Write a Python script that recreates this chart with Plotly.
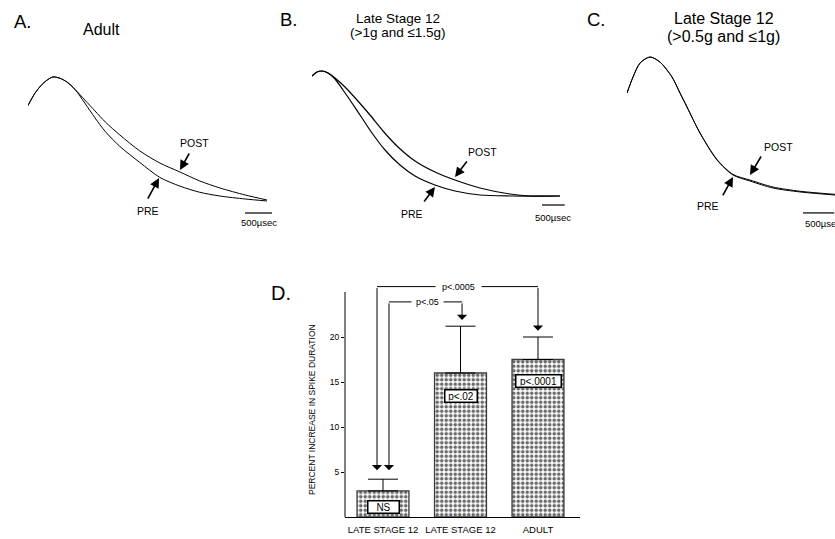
import plotly.graph_objects as go

W, H = 835, 539
FONT = "Liberation Sans, Arial, Helvetica, sans-serif"

# ---------------- data ----------------
# Panel A (Adult): time (usec) and normalised spike amplitude (% of peak)
A_T = [0, 130, 260, 370, 460, 590, 720, 870, 1050, 1240, 1430, 1700, 2070, 2440, 2810, 3180, 3550, 4020, 4420]
A_PRE = [77, 87, 94, 98, 100, 99, 96, 90, 79, 67, 56, 44, 31, 19, 12, 7, 4, 1.6, 0]
A_POST = [77, 87, 94, 98, 100, 99, 96, 90, 81.5, 72.6, 63.7, 53.2, 40.3, 30.6, 23.4, 16.1, 10.5, 4.8, 0.8]

# Panel B (Late stage 12, >1g and <=1.5g)
B_T_PRE = [0, 110, 220, 352, 506, 682, 880, 1100, 1320, 1606, 1936, 2266, 2706, 3146, 3696, 4356, 5456]
B_PRE = [96, 99.2, 100, 98.4, 93.6, 84.8, 74.4, 62.4, 50.4, 36.8, 24.8, 16, 8.8, 4, 0.8, 0, 0]
B_T_POST = [0, 110, 220, 352, 506, 726, 990, 1276, 1562, 1892, 2266, 2706, 3146, 3696, 4356, 4796, 5456]
B_POST = [96, 99.2, 100, 98.4, 94.4, 87.2, 76.8, 64.8, 52, 39.2, 28, 19.2, 12.8, 6.4, 1.6, 0, 0]

# Panel C (Late stage 12, >0.5g and <=1g)
C_T = [0, 96, 208, 368, 528, 720, 848, 960, 1168, 1440, 1696, 1968, 2336, 2768, 3408]
C_PRE = [74.3, 85.7, 95.7, 100, 96.4, 85.7, 74.3, 64.3, 45.7, 26.4, 15.7, 11.4, 6.4, 3.6, 1.1]
C_POST = [74.3, 85.7, 95.7, 100, 96.4, 85.7, 74.3, 64.3, 45.7, 26.8, 16.1, 12.1, 7.1, 4.1, 1.6]

SCALE_US = 500  # scale bar length

# Panel D: bar chart
D_CATS = ["LATE STAGE 12<br>(&gt;0.5g&lt;1g)", "LATE STAGE 12<br>(&gt;1g&lt;1.5g)", "ADULT"]
D_VALUES = [2.9, 16.0, 17.5]
D_ERR = [1.3, 5.2, 2.5]
D_INSIDE = ["NS", "p&lt;.02", "p&lt;.0001"]
D_YTICKS = [5, 10, 15, 20]
D_SIG = ["p&lt;.05", "p&lt;.0005"]


def fx(px):
    return px / W


def fy(py):
    return 1 - py / H


fig = go.Figure()

# ---------- panels A-C ----------
panels = [
    ("x", "y", (28, 280), (60, 230), (0, 4662), (-23.4, 113.7)),
    ("x2", "y2", (312, 575), (55, 225), (0, 5786), (-23.2, 112.8)),
    ("x3", "y3", (627, 835), (45, 230), (0, 3328), (-23.6, 108.6)),
]
curves = [
    [(A_T, A_PRE), (A_T, A_POST)],
    [(B_T_PRE, B_PRE), (B_T_POST, B_POST)],
    [(C_T, C_PRE), (C_T, C_POST)],
]
lw = [1.0, 1.2, 1.0]
for i, (xa, ya, xd, yd, xr, yr) in enumerate(panels):
    for t, v in curves[i]:
        fig.add_trace(go.Scatter(x=t, y=v, xaxis=xa, yaxis=ya, mode="lines",
                                 line=dict(color="black", width=lw[i], shape="spline", smoothing=0.8),
                                 showlegend=False, hoverinfo="skip"))
    sfx = "" if i == 0 else str(i + 1)
    fig.layout["xaxis" + sfx] = dict(domain=[fx(xd[0]), fx(xd[1])], range=list(xr), visible=False,
                                     fixedrange=True, anchor=ya, automargin=False)
    fig.layout["yaxis" + sfx] = dict(domain=[fy(yd[1]), fy(yd[0])], range=list(yr), visible=False,
                                     fixedrange=True, anchor=xa, automargin=False)

txt = dict(family=FONT, color="black")

# scale bars (x0 positions, y level, label y)
scale_specs = [
    ("x", "y", 4015, -9.7, -17.7, "center"),
    ("x2", "y2", 5060, -7.2, -16.8, "center"),
    ("x3", "y3", 2816, -11.4, -18.6, "left"),
]
for xa, ya, x0, yl, ylab, anc in scale_specs:
    fig.add_shape(type="line", xref=xa, yref=ya, x0=x0, x1=x0 + SCALE_US, y0=yl, y1=yl,
                  line=dict(color="black", width=1.2))
    fig.add_annotation(xref=xa, yref=ya, x=x0 + (SCALE_US / 2 if anc == "center" else 0), y=ylab,
                       text="500µsec", showarrow=False, xanchor=anc, yanchor="middle",
                       font=dict(size=9.5, **txt))

# PRE / POST labels and arrows
arrow_specs = [
    # xa, ya, label, label x, label y, tip x, tip y, ax, ay
    ("x", "y", "POST", 3071, 46.8, 2812, 25, 10, -18),
    ("x", "y", "PRE", 2220, -8.1, 2424, 18.5, -12, 22),
    ("x2", "y2", "POST", 3740, 35.2, 3146, 15.2, 13, -17),
    ("x2", "y2", "PRE", 2200, -14.4, 2706, 7.2, -12, 16),
    ("x3", "y3", "POST", 2416, 35.7, 1968, 15.7, 12, -20),
    ("x3", "y3", "PRE", 1296, -6.4, 1696, 14.3, -11, 20),
]
for xa, ya, lab, lx, ly, tx, ty, ax, ay in arrow_specs:
    fig.add_annotation(xref=xa, yref=ya, x=lx, y=ly, text=lab, showarrow=False,
                       xanchor="center", yanchor="middle", font=dict(size=10.5, **txt))
    fig.add_annotation(xref=xa, yref=ya, x=tx, y=ty, text="", showarrow=True, ax=ax, ay=ay,
                       arrowhead=2, arrowsize=1.2, arrowwidth=1.6, arrowcolor="black")

# panel letters and titles
paper_texts = [
    ("A.", 22, 21, 18.5),
    ("Adult", 101, 29, 16),
    ("B.", 288, 20, 18.5),
    ("Late Stage 12", 398, 18, 13.5),
    ("(&gt;1g and ≤1.5g)", 398, 32, 13.5),
    ("C.", 596, 20, 18.5),
    ("Late Stage 12", 724, 19, 16),
    ("(&gt;0.5g and ≤1g)", 723, 36, 16),
    ("D.", 281, 293, 20),
]
for t, px, py, s in paper_texts:
    fig.add_annotation(xref="paper", yref="paper", x=fx(px), y=fy(py), text=t, showarrow=False,
                       xanchor="center", yanchor="middle", font=dict(size=s, **txt))

# ---------- panel D ----------
XC0, XSTEP = 383, 77.5  # pixel centre of first bar and bar spacing
xl, xrgt = 345, 580
fig.add_trace(go.Bar(
    x=list(range(len(D_VALUES))), y=D_VALUES, width=0.67, xaxis="x4", yaxis="y4",
    marker=dict(color="white", line=dict(color="#3a3a3a", width=1.3),
                pattern=dict(shape=".", fgcolor="#6a6a6a", bgcolor="white", size=4.5, solidity=0.5)),
    error_y=dict(type="data", array=D_ERR, arrayminus=[0] * len(D_ERR), symmetric=False,
                 color="black", thickness=1, width=15),
    showlegend=False, hoverinfo="skip"))

fig.layout.xaxis4 = dict(domain=[fx(xl), fx(xrgt)], anchor="y4",
                         range=[(xl - XC0) / XSTEP, (xrgt - XC0) / XSTEP],
                         tickvals=list(range(len(D_CATS))), ticktext=D_CATS,
                         tickfont=dict(size=9.5, **txt), showgrid=False, zeroline=False,
                         showline=True, linecolor="black", linewidth=1, ticks="",
                         ticklabelstandoff=4, fixedrange=True, automargin=False)
fig.layout.yaxis4 = dict(domain=[fy(517), fy(274)], anchor="x4", range=[0, 27],
                         tickvals=D_YTICKS, ticktext=[str(v) for v in D_YTICKS],
                         tickfont=dict(size=8.5, **txt), showgrid=False, zeroline=False,
                         showline=False, ticks="outside", ticklen=3, tickcolor="black",
                         fixedrange=True, automargin=False)
# y axis line from 0 to 25
fig.add_shape(type="line", xref="paper", yref="y4", x0=fx(xl), x1=fx(xl), y0=0, y1=25,
              line=dict(color="black", width=1))
fig.add_annotation(xref="paper", yref="paper", x=fx(312), y=fy(410),
                   text="PERCENT INCREASE IN SPIKE DURATION", textangle=-90, showarrow=False,
                   xanchor="center", yanchor="middle", font=dict(size=8.5, **txt))

# inside labels
inside_y = [1.1, 13.4, 15.1]
inside_w = [28, 29, 42]
for i, lab in enumerate(D_INSIDE):
    fig.add_annotation(xref="x4", yref="y4", x=i, y=inside_y[i], text=lab, showarrow=False,
                       xanchor="center", yanchor="middle",
                       bgcolor="white", bordercolor="black", borderwidth=1.5, borderpad=1,
                       width=inside_w[i], height=9, font=dict(size=10, **txt))

# significance brackets: (label, left x, right x, bracket y, left tip y, right tip y, label x, pad)
brackets = [
    (D_SIG[0], 0.077, 1.02, 23.9, 5.2, 21.9, 0.58, 4),
    (D_SIG[1], -0.077, 2.0, 25.6, 5.2, 20.7, 0.97, 6),
]
for lab, bx0, bx1, by, ty0, ty1, lx, pad in brackets:
    fig.add_shape(type="line", xref="x4", yref="y4", x0=bx0, x1=bx1, y0=by, y1=by,
                  line=dict(color="black", width=1))
    for bx, ty in ((bx0, ty0), (bx1, ty1)):
        fig.add_annotation(xref="x4", yref="y4", x=bx, y=ty, ax=bx, ay=by, axref="x4", ayref="y4",
                           text="", showarrow=True, arrowhead=1, arrowsize=1.7, arrowwidth=1,
                           arrowcolor="black")
    fig.add_annotation(xref="x4", yref="y4", x=lx, y=by, text=lab, showarrow=False,
                       xanchor="center", yanchor="middle",
                       bgcolor="white", borderpad=pad, font=dict(size=9, **txt))

fig.update_layout(template="none", width=W, height=H, autosize=False,
                  margin=dict(l=0, r=0, t=0, b=0, pad=0),
                  paper_bgcolor="white", plot_bgcolor="rgba(0,0,0,0)",
                  font=dict(family=FONT, color="black"), bargap=0)

fig.write_html("out.html", config={"displayModeBar": False, "staticPlot": True},
               post_script="document.body.style.margin='0px';document.body.style.overflow='hidden';")
